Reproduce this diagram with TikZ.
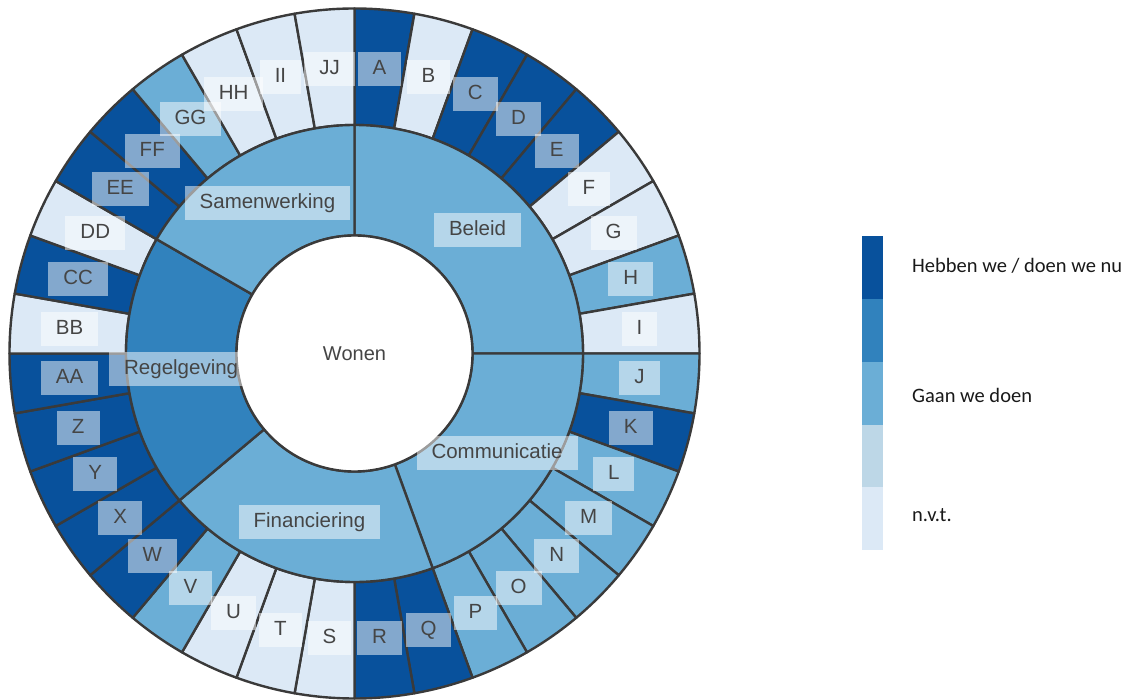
\documentclass[tikz,border=0pt]{standalone}
\usepackage{fontspec}
\setmainfont{Liberation Sans}
\newfontfamily\legendfont{Carlito}
\definecolor{cD}{HTML}{08519C}
\definecolor{cMD}{HTML}{3182BD}
\definecolor{cM}{HTML}{6BAED6}
\definecolor{cL}{HTML}{BDD7E7}
\definecolor{cN}{HTML}{DCE9F6}
\definecolor{edgec}{HTML}{3A3A3A}
\definecolor{txtc}{HTML}{454545}
\newcommand\mysector[5]{%
  \path[fill=#1, draw=edgec, line width=2.4pt, line join=round]
    (#2:#4) arc[start angle=#2, end angle=#3, radius=#4]
    -- (#3:#5) arc[start angle=#3, end angle=#2, radius=#5] -- cycle;}
\begin{document}
\begin{tikzpicture}[x=1pt,y=1pt,
  lbl/.style={fill=white, fill opacity=0.5, text opacity=1, text=txtc,
    font=\fontsize{20.5}{24}\selectfont, inner xsep=15pt, inner ysep=0pt,
    text height=15pt, text depth=4pt, minimum height=34pt},
  legtxt/.style={anchor=west, font=\legendfont\fontsize{20.5}{24}\selectfont, text=black!90, inner sep=0pt}]
\useasboundingbox (-354.5,-346.5) rectangle (776.5,353.5);
\def\rin{118}
\def\rmid{228.5}
\def\rout{345}
% outer ring
\foreach \lab/\col [count=\i from 0] in {A/cD,B/cN,C/cD,D/cD,E/cD,F/cN,G/cN,H/cM,I/cN,
  J/cM,K/cD,L/cM,M/cM,N/cM,O/cM,P/cM,Q/cD,R/cD,S/cN,T/cN,U/cN,V/cM,W/cD,X/cD,Y/cD,Z/cD,
  AA/cD,BB/cN,CC/cD,DD/cN,EE/cD,FF/cD,GG/cM,HH/cN,II/cN,JJ/cN}{
  \pgfmathsetmacro\aS{90-10*\i}
  \pgfmathsetmacro\aE{80-10*\i}
  \mysector{\col}{\aS}{\aE}{\rmid}{\rout}
}
% inner ring
\mysector{cM}{90}{0}{\rin}{\rmid}
\mysector{cM}{0}{-70}{\rin}{\rmid}
\mysector{cM}{-70}{-140}{\rin}{\rmid}
\mysector{cMD}{220}{150}{\rin}{\rmid}
\mysector{cM}{150}{90}{\rin}{\rmid}
\draw[fill=white, draw=edgec, line width=2.4pt] (0,0) circle (\rin);
\node[text=txtc, font=\fontsize{20}{24}\selectfont] (wonen) at (0,0) {Wonen};
% outer labels
\foreach \lab [count=\i from 0] in {A,B,C,D,E,F,G,H,I,J,K,L,M,N,O,P,Q,R,S,T,U,V,W,X,Y,Z,
  AA,BB,CC,DD,EE,FF,GG,HH,II,JJ}{
  \pgfmathsetmacro\aM{85-10*\i}
  \node[lbl] (o\lab) at (\aM:286) {\lab};
}
% inner labels
\node[lbl] (beleid) at (45:174) {Beleid};
\node[lbl] (comm) at (-35:174) {Communicatie};
\node[lbl] (fin) at (-105:174) {Financiering};
\node[lbl] (regel) at (185:174) {Regelgeving};
\node[lbl] (samen) at (120:174) {Samenwerking};
% legend
\fill[cD] (507.5,117.5) rectangle (528.5,54.5);
\fill[cMD] (507.5,54.5) rectangle (528.5,-8.5);
\fill[cM] (507.5,-8.5) rectangle (528.5,-71.5);
\fill[cL] (507.5,-71.5) rectangle (528.5,-133.5);
\fill[cN] (507.5,-133.5) rectangle (528.5,-196.5);
\node[legtxt] (leg1) at (557.5,87.5) {Hebben we / doen we nu};
\node[legtxt] (leg2) at (557.5,-41.5) {Gaan we doen};
\node[legtxt] (leg3) at (557.5,-161.5) {n.v.t.};
\end{tikzpicture}
\end{document}
